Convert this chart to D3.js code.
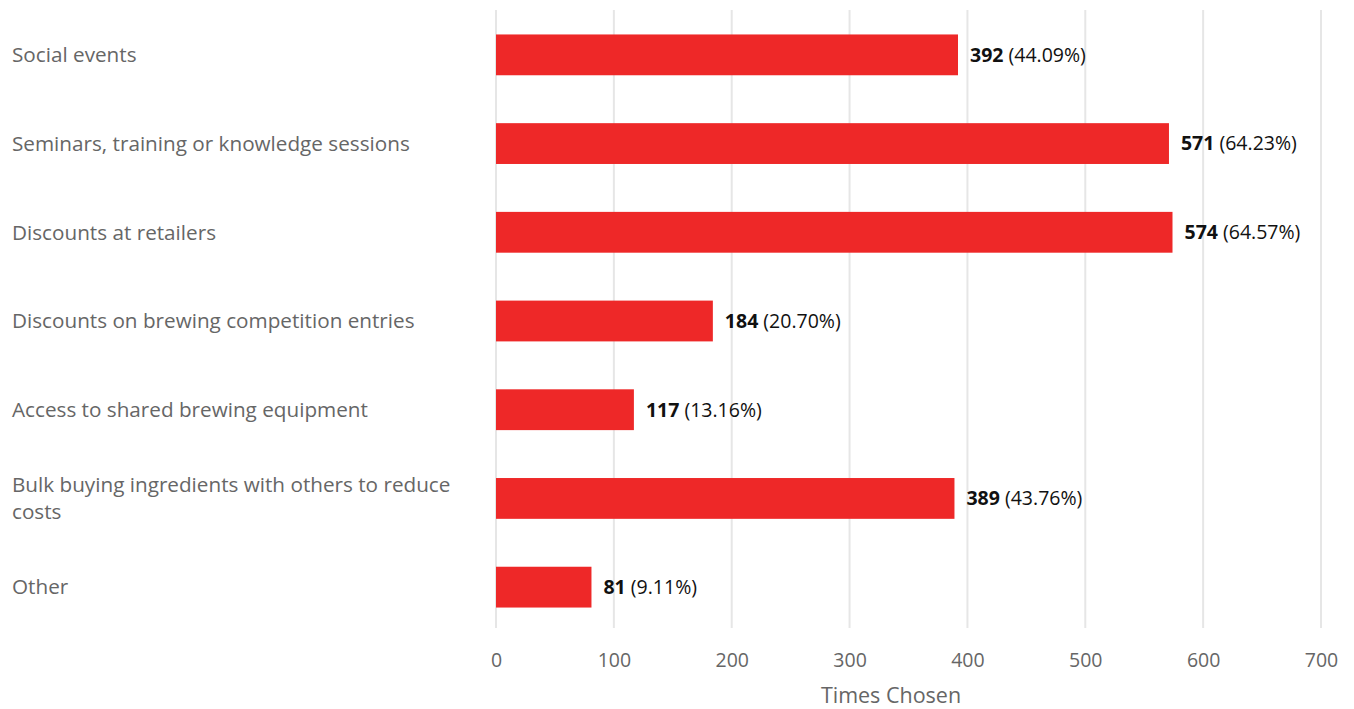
<!DOCTYPE html>
<html><head><meta charset="utf-8">
<script src="https://cdn.jsdelivr.net/npm/d3@7"></script>
<style>body{margin:0;background:#fff;} text{font-family:"Open Sans",sans-serif;}</style>
</head><body>
<svg id="chart" width="1354" height="709"></svg>
<script>
const categories = [
  "Social events",
  "Seminars, training or knowledge sessions",
  "Discounts at retailers",
  "Discounts on brewing competition entries",
  "Access to shared brewing equipment",
  "Bulk buying ingredients with others to reduce costs",
  "Other"
];
const labelLines = [
  ["Social events"],
  ["Seminars, training or knowledge sessions"],
  ["Discounts at retailers"],
  ["Discounts on brewing competition entries"],
  ["Access to shared brewing equipment"],
  ["Bulk buying ingredients with others to reduce", "costs"],
  ["Other"]
];
const counts = [392, 571, 574, 184, 117, 389, 81];
const percents = ["44.09%", "64.23%", "64.57%", "20.70%", "13.16%", "43.76%", "9.11%"];
const xTicks = [0, 100, 200, 300, 400, 500, 600, 700];
const xTitle = "Times Chosen";

const svg = d3.select("#chart");
const x = d3.scaleLinear().domain([0, 700]).range([496, 1321]);
const y = d3.scaleBand().domain(categories).range([10.5, 631.5]).paddingInner(0.54).paddingOuter(0.27);

// gridlines
svg.append("g").selectAll("line").data(xTicks).join("line")
  .attr("x1", d => x(d)).attr("x2", d => x(d))
  .attr("y1", 10).attr("y2", 628)
  .attr("stroke", "#e6e6e6").attr("stroke-width", 2);

// bars
svg.append("g").selectAll("rect").data(categories).join("rect")
  .attr("x", x(0))
  .attr("y", d => y(d))
  .attr("width", (d, i) => x(counts[i]) - x(0))
  .attr("height", y.bandwidth())
  .attr("fill", "#ee2828");

// value labels
const vl = svg.append("g").selectAll("text").data(categories).join("text")
  .attr("x", (d, i) => x(counts[i]) + 12)
  .attr("y", d => y(d) + y.bandwidth() / 2)
  .attr("dy", "0.35em")
  .attr("font-size", 19.5)
  .attr("fill", "#111");
vl.append("tspan").attr("font-weight", "bold").text((d, i) => counts[i]);
vl.append("tspan").text((d, i) => " (" + percents[i] + ")");

// category labels
const cl = svg.append("g").selectAll("text").data(categories).join("text")
  .attr("x", 12)
  .attr("y", (d, i) => y(d) + y.bandwidth() / 2 - (labelLines[i].length - 1) * 13.5)
  .attr("font-size", 20.7)
  .attr("fill", "#666");
cl.selectAll("tspan").data((d, i) => labelLines[i]).join("tspan")
  .attr("x", 12)
  .attr("dy", (d, j) => j === 0 ? "0.35em" : 27)
  .text(d => d);

// x axis
const xAxis = d3.axisBottom(x).tickValues(xTicks).tickSize(0).tickPadding(0);
const ga = svg.append("g").attr("transform", "translate(0,660)").call(xAxis);
ga.select(".domain").remove();
ga.selectAll("text").attr("font-size", 19.5).attr("fill", "#666")
  .attr("font-family", "Open Sans, sans-serif").attr("dy", "0.35em").attr("y", 0);

svg.append("text").attr("x", 891).attr("y", 695).attr("dy", "0.35em")
  .attr("text-anchor", "middle").attr("font-size", 21.5).attr("fill", "#666").text(xTitle);
</script>
</body></html>
